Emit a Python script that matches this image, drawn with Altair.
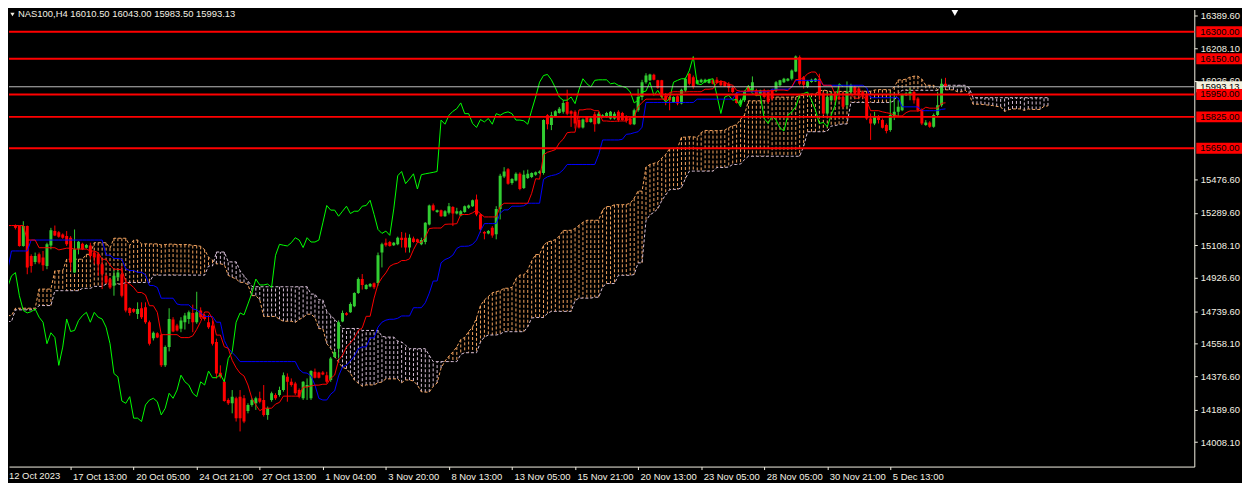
import altair as alt
import pandas as pd
import numpy as np

# ---------------- data (H4 bars, index 0 = 12 Oct 2023 21:00) ----------------
open_ = [15150,15192,15215,15215,15104,15215,15048,15015,15057,15039,
         14992,15107,15187,15181,15168,15159,15150,14955,15089,15116,
         15094,15107,15067,15057,15002,14937,14918,14881,14928,14946,
         14891,14758,14752,14724,14756,14761,14678,14589,14617,14608,
         14437,14539,14693,14660,14641,14678,14696,14730,14678,14743,
         14715,14678,14660,14567,14395,14345,14243,14225,14253,14262,
         14253,14182,14216,14225,14253,14244,14160,14244,14272,14272,
         14299,14373,14345,14336,14299,14253,14318,14253,14401,14397,
         14397,14382,14355,14484,14530,14682,14728,14734,14767,14841,
         14919,14863,14878,14895,14897,15067,15122,15126,15108,15113,
         15150,15150,15095,15145,15141,15113,15126,15224,15332,15293,
         15304,15270,15289,15322,15285,15274,15293,15317,15326,15363,
         15280,15182,15174,15206,15169,15311,15492,15533,15455,15470,
         15507,15428,15483,15489,15502,15511,15511,15834,15779,15829,
         15847,15853,15908,15856,15853,15807,15766,15825,15797,15840,
         15788,15825,15825,15816,15816,15853,15847,15829,15816,15784,
         15862,15936,16019,16029,16060,16029,16029,15945,15936,15908,
         15940,15899,15973,16066,16047,16010,16019,16019,16014,16029,
         16032,16025,16019,16010,15988,15954,15899,15918,15995,15973,
         15973,15954,15973,15969,15973,15973,16001,16019,16027,16038,
         16079,16158,16047,15992,16020,16023,16038,15955,15844,15918,
         15949,15936,15936,15890,15964,15992,15983,15964,15946,15816,
         15788,15825,15807,15779,15751,15825,15853,15862,15946,15946,
         15964,15927,15862,15779,15794,15770,15835,15890,16010.5]
high = [15215,15215,15224,15218,15242,15218,15057,15067,15067,15076,
        15122,15205,15218,15187,15174,15187,15159,15196,15131,15122,
        15115,15122,15076,15067,15030,14946,14928,14965,14974,14992,
        14918,14761,14756,14789,14789,14789,14687,14626,14622,14613,
        14548,14756,14706,14669,14706,14730,14743,14776,14848,14761,
        14724,14719,14687,14586,14437,14364,14253,14299,14262,14299,
        14271,14225,14253,14262,14290,14327,14207,14290,14281,14318,
        14397,14392,14364,14345,14308,14349,14364,14410,14419,14401,
        14405,14401,14484,14521,14688,14743,14734,14789,14845,14928,
        14947,14891,14897,14900,15067,15122,15145,15132,15126,15156,
        15182,15178,15169,15156,15145,15150,15237,15335,15341,15307,
        15307,15304,15344,15326,15317,15304,15330,15335,15363,15391,
        15285,15187,15193,15215,15326,15507,15544,15539,15483,15515,
        15515,15526,15530,15515,15520,15526,15811,15840,15853,15862,
        15880,15918,15977,15862,15862,15825,15816,15829,15825,15853,
        15853,15840,15853,15858,15853,15862,15853,15834,15825,15871,
        15982,16032,16069,16066,16066,16032,16032,15958,15945,15940,
        15945,15982,16045,16069,16056,16032,16038,16038,16038,16038,
        16047,16029,16025,16019,15995,15964,15927,15973,16001,16051,
        15982,15977,15982,15977,15982,16025,16032,16043,16042,16090,
        16168,16168,16053,16029,16038,16042,16066,15964,15964,15964,
        15964,16005,15964,16023,16010,16001,15992,15973,15955,15844,
        15853,15835,15816,15788,15964,15946,15918,15955,15964,15983,
        15973,15936,15872,15807,15801,15844,15964,16038,16043]
low = [15140,15187,15196,15100,15100,14946,14955,15002,15002,14965,
       14974,15085,15159,15150,15144,15104,14965,14955,15057,15081,
       15089,15030,15002,14937,14863,14891,14863,14826,14909,14817,
       14733,14715,14730,14696,14696,14669,14548,14576,14589,14428,
       14428,14515,14622,14626,14622,14637,14669,14622,14669,14696,
       14687,14641,14548,14364,14364,14234,14216,14169,14123,14068,
       14114,14169,14206,14188,14225,14151,14133,14234,14244,14262,
       14290,14234,14318,14272,14253,14244,14244,14244,14364,14364,
       14382,14336,14345,14479,14475,14678,14715,14730,14762,14836,
       14860,14860,14873,14863,14882,14984,15100,15100,15104,15108,
       15095,15067,15067,15122,15122,15108,15113,15219,15298,15289,
       15267,15267,15280,15215,15280,15270,15289,15311,15322,15270,
       15178,15141,15169,15150,15141,15252,15483,15446,15446,15465,
       15415,15422,15478,15483,15496,15507,15502,15755,15751,15825,
       15843,15843,15834,15769,15760,15760,15760,15792,15792,15742,
       15784,15821,15821,15810,15810,15797,15803,15792,15779,15779,
       15853,15918,16010,16025,16029,15982,15927,15890,15862,15903,
       15890,15895,15964,16001,15982,16006,16014,16014,16010,16006,
       16010,15995,15992,15964,15958,15899,15890,15908,15964,15964,
       15940,15945,15927,15899,15918,15964,15995,16014,16023,16029,
       16075,16001,15983,15986,16016,16020,15918,15835,15835,15909,
       15909,15918,15872,15872,15955,15946,15936,15927,15807,15696,
       15779,15788,15760,15733,15742,15807,15825,15857,15942,15918,
       15899,15853,15779,15775,15764,15764,15825,15881,15983.5]
close = [15205,15205,15205,15104,15215,14983,14992,15048,15011,14996,
         15113,15192,15163,15155,15150,15113,15011,15085,15128,15085,
         15109,15048,15039,15002,14946,14900,14872,14937,14955,14826,
         14743,14730,14737,14752,14706,14678,14558,14619,14593,14437,
         14539,14696,14626,14632,14687,14715,14733,14678,14733,14706,
         14696,14650,14558,14391,14373,14238,14225,14262,14142,14142,
         14123,14216,14243,14253,14234,14160,14197,14281,14253,14299,
         14382,14345,14327,14281,14262,14345,14327,14405,14368,14368,
         14386,14345,14475,14512,14678,14730,14719,14780,14841,14919,
         14886,14886,14891,14873,15052,15113,15108,15104,15122,15150,
         15137,15095,15150,15126,15126,15137,15233,15330,15304,15304,
         15270,15298,15326,15285,15298,15298,15326,15330,15359,15280,
         15196,15174,15187,15163,15311,15496,15520,15452,15478,15507,
         15422,15502,15507,15511,15515,15520,15807,15784,15834,15856,
         15871,15903,15843,15843,15788,15766,15810,15797,15816,15784,
         15843,15834,15847,15853,15843,15807,15807,15803,15784,15862,
         15936,16019,16056,16062,16032,15988,15936,15918,15918,15936,
         15899,15977,16038,16010,15992,16029,16032,16032,16032,16010,
         16014,16001,15995,15988,15964,15903,15918,15964,15969,16019,
         15945,15973,15936,15908,15927,16019,16029,16038,16038,16084,
         16162,16010,16005,16023,16033,16038,15946,15844,15936,15946,
         15918,15923,15881,15964,16001,15955,15946,15946,15816,15788,
         15829,15807,15764,15746,15835,15853,15881,15949,15955,15964,
         15918,15862,15788,15794,15770,15835,15890,16010,15993.13]

# indicator values at the left edge (their look-back reaches before the first visible bar)
tenkan_start = [15218, 15218, 15218, 15218, 15218, 15137, 15137, 15137]
kijun_start = [14965, 15076, 15076, 15076, 15076, 15076, 15137, 15137, 15137, 15137,
               15137, 15137, 15137, 15137, 15137, 15137, 15137, 15137, 15137, 15137,
               15137, 15137, 15137, 15137, 15137]
span_a_start = [14715, 14715, 14756, 14756, 14756, 14756, 14756, 14756, 14863, 14863,
                14863, 14863, 14965, 14965, 14965, 15030, 15030, 15030, 15030, 15030,
                15057, 15057, 15122, 15122, 15122, 15122]
span_b_start = [14682, 14682, 14747, 14747, 14747, 14747, 14747, 14747, 14771, 14771,
                14771, 14771, 14854, 14854, 14854, 14854, 14854, 14854, 14854, 14867,
                14867, 14867, 14878, 14878, 14878, 14891, 14891, 14891, 14891, 14891,
                14900, 14900, 14900, 14900, 14900, 14900, 14900, 14941, 14941, 14941,
                14941, 14941, 14941, 14941, 14941, 14941, 14941, 14941, 14941, 14941,
                14941, 14992, 14992, 15070, 15070, 15070, 15015, 15015, 15015, 14965,
                14937, 14909, 14878, 14876, 14876, 14876, 14876, 14876, 14876, 14876,
                14876, 14876, 14876, 14876, 14876, 14876, 14876]

level_prices = [16300, 16150, 15950, 15825, 15650]
bid_price = 15993.13
y_tick_values = [16389.6, 16208.1, 16026.6, 15476.6, 15289.6, 15108.1, 14926.6,
                 14739.6, 14558.1, 14376.6, 14189.6, 14008.1]
x_tick_labels = ["12 Oct 2023", "17 Oct 13:00", "20 Oct 05:00", "24 Oct 21:00",
                 "27 Oct 13:00", "1 Nov 04:00", "3 Nov 20:00", "8 Nov 13:00",
                 "13 Nov 05:00", "15 Nov 21:00", "20 Nov 13:00", "23 Nov 05:00",
                 "28 Nov 05:00", "30 Nov 21:00", "5 Dec 13:00"]
header_text = "NAS100,H4  16010.50 16043.00 15983.50 15993.13"

# ---------------- Ichimoku (9, 26, 52) ----------------
o = np.array(open_, float); h = np.array(high, float)
l = np.array(low, float); c = np.array(close, float)
n = len(c)
tenkan = np.array([tenkan_start[k] if k < 8 else (h[k-8:k+1].max() + l[k-8:k+1].min()) / 2 for k in range(n)])
kijun = np.array([kijun_start[k] if k < 25 else (h[k-25:k+1].max() + l[k-25:k+1].min()) / 2 for k in range(n)])
span_a = np.array([span_a_start[j] if j < 26 else (tenkan[j-26] + kijun[j-26]) / 2 for j in range(n + 26)])
span_b = np.array([span_b_start[j] if j < 77 else (h[j-77:j-25].max() + l[j-77:j-25].min()) / 2 for j in range(n + 26)])
chikou = c[26:]

# ---------------- layout ----------------
W, H = 1193, 460
BAR_PX = 4.0
X_DOMAIN = [1.625, 1.625 + W / BAR_PX]
Y_DOMAIN = [16424.6 - H * 5.55, 16424.6]
FONT = "Liberation Sans"
FS = 9.5
FG = "#F4F1E4"
SANDY, THISTLE = "#F4A460", "#D8BFD8"
BULL, BEAR = "#32CD32", "#FF0000"

xscale = alt.Scale(domain=X_DOMAIN, nice=False, zero=False)
yscale = alt.Scale(domain=Y_DOMAIN, nice=False, zero=False)
label_expr = "[" + ",".join(repr(s) for s in x_tick_labels) + "][round(datum.value / 16)]"
xaxis = alt.Axis(values=[16 * m for m in range(1, len(x_tick_labels))], labelExpr=label_expr,
                 labelAlign="left", labelOffset=2, tickSize=3, labelPadding=2,
                 domainColor=FG, tickColor=FG, labelColor=FG, labelFont=FONT, labelFontSize=FS,
                 title=None, grid=False, labelOverlap=False, labelFlush=False)
yaxis = alt.Axis(orient="right", values=y_tick_values, format=".2f", tickSize=3, labelPadding=3,
                 domainColor=FG, tickColor=FG, labelColor=FG, labelFont=FONT, labelFontSize=FS,
                 title=None, grid=False, labelOverlap=False, labelFlush=False)

def X(f):
    return alt.X(f, type="quantitative", scale=xscale, axis=xaxis)

def Y(f):
    return alt.Y(f, type="quantitative", scale=yscale, axis=yaxis)

# cloud
ks = np.arange(n + 26)
cloud = pd.DataFrame({"k": ks, "a": span_a, "b": span_b})
cloud["col"] = np.where(cloud["a"] >= cloud["b"], SANDY, THISTLE)
cloud = cloud[cloud["k"] >= 2]
edges = pd.concat([
    pd.DataFrame({"k": ks, "v": span_a, "s": "A", "col": SANDY}),
    pd.DataFrame({"k": ks, "v": span_b, "s": "B", "col": THISTLE}),
])
lines = pd.concat([
    pd.DataFrame({"k": np.arange(len(chikou)), "v": chikou, "s": "chikou", "col": "#00FF00"}),
    pd.DataFrame({"k": np.arange(n), "v": kijun, "s": "kijun", "col": "#0000FF"}),
    pd.DataFrame({"k": np.arange(n), "v": tenkan, "s": "tenkan", "col": "#FF0000"}),
])
candles = pd.DataFrame({"k": np.arange(n), "o": o, "h": h, "l": l, "c": c})
candles["top"] = candles[["o", "c"]].max(axis=1)
candles["bot"] = candles[["o", "c"]].min(axis=1)
candles["hi"] = candles[["h", "o", "c"]].max(axis=1)
candles["lo"] = candles[["l", "o", "c"]].min(axis=1)
candles["col"] = np.where(candles["c"] >= candles["o"], BULL, BEAR)
candles = candles[candles["k"] >= 2]

levels = pd.DataFrame({"p": level_prices, "lab": [f"{p:.2f}" for p in level_prices]})
bid = pd.DataFrame({"p": [bid_price], "lab": [f"{bid_price:.2f}"]})

hatch = alt.Chart(cloud).mark_rule(strokeDash=[3, 2], strokeWidth=1, clip=True).encode(
    x=X("k"), y=Y("a"), y2="b", color=alt.Color("col:N", scale=None))
edge_lines = alt.Chart(edges).mark_line(strokeDash=[3, 2], strokeWidth=1, clip=True).encode(
    x=X("k"), y=Y("v"), detail="s:N", color=alt.Color("col:N", scale=None))
wicks = alt.Chart(candles).mark_rule(strokeWidth=1, clip=True).encode(
    x=X("k"), y=Y("hi"), y2="lo", color=alt.Color("col:N", scale=None))
bodies = alt.Chart(candles).mark_bar(size=3, clip=True).encode(
    x=X("k"), y=Y("top"), y2="bot", color=alt.Color("col:N", scale=None))
ind_lines = alt.Chart(lines).mark_line(strokeWidth=1, clip=True).encode(
    x=X("k"), y=Y("v"), detail="s:N", color=alt.Color("col:N", scale=None))
level_rules = alt.Chart(levels).mark_rule(color="#FF0000", strokeWidth=2).encode(y=Y("p"))
bid_rule = alt.Chart(bid).mark_rule(color="#BEBEBE", strokeWidth=1).encode(y=Y("p"))
bid_box = alt.Chart(bid).mark_rect(color="#F4F1DE", yOffset=-5.5, y2Offset=5.5).encode(
    x=alt.value(W + 2), x2=alt.value(W + 48), y=Y("p"), y2="p")
bid_text = alt.Chart(bid).mark_text(align="left", baseline="middle", font=FONT, fontSize=FS,
                                    color="black").encode(x=alt.value(W + 6), y=Y("p"), text="lab:N")
lvl_box = alt.Chart(levels).mark_rect(color="#FF0000", yOffset=-5.5, y2Offset=5.5).encode(
    x=alt.value(W + 2), x2=alt.value(W + 48), y=Y("p"), y2="p")
lvl_text = alt.Chart(levels).mark_text(align="left", baseline="middle", font=FONT, fontSize=FS,
                                       color="black").encode(x=alt.value(W + 6), y=Y("p"), text="lab:N")
header = alt.Chart(pd.DataFrame({"t": [header_text]})).mark_text(
    align="left", baseline="top", font=FONT, fontSize=FS, color=FG).encode(
    x=alt.value(9), y=alt.value(0), text="t:N")
header_tri = alt.Chart(pd.DataFrame({"t": [0]})).mark_point(
    shape="triangle-down", filled=True, size=18, color=FG, opacity=1).encode(
    x=alt.value(3.5), y=alt.value(5))
shift_tri = alt.Chart(pd.DataFrame({"t": [0]})).mark_point(
    shape="triangle-down", filled=True, size=45, color="white", opacity=1).encode(
    x=alt.value(952), y=alt.value(3.5))
first_label = alt.Chart(pd.DataFrame({"t": [x_tick_labels[0]]})).mark_text(
    align="left", baseline="top", font=FONT, fontSize=FS, color=FG).encode(
    x=alt.value(0), y=alt.value(H + 5), text="t:N")

chart = alt.layer(
    hatch, edge_lines, wicks, bodies, ind_lines, level_rules, bid_rule,
    bid_box, bid_text, lvl_box, lvl_text, header, header_tri, shift_tri, first_label
).properties(
    width=W, height=H, padding={"left": 0, "top": 0, "right": 0, "bottom": 0}
).configure(background="black").configure_view(strokeWidth=0)

chart.save("out.html", embed_options={"renderer": "svg", "actions": False})
